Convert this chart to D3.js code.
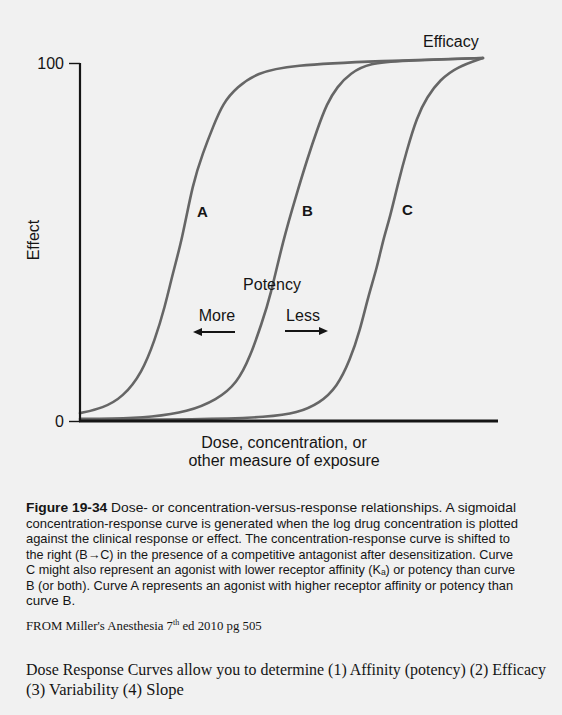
<!DOCTYPE html>
<html><head><meta charset="utf-8">
<script src="https://cdn.jsdelivr.net/npm/d3@7"></script>
<style>
html,body{margin:0;padding:0;background:#f1f1f1;}
svg{display:block;}
</style></head>
<body>
<script>
// Data (x: relative log dose 0-100, y: effect 0-100)
const curveNames = ["A", "B", "C"];
const doseA = [0, 5.5, 10.3, 14.8, 17.9, 20.3, 22.2, 24.4, 27.0, 29.4, 31.8, 34.2, 37.6, 42.3, 50.2, 71.8, 96.4];
const effectA = [2.2, 3.6, 6.7, 13.4, 22.6, 31.8, 41.3, 50.6, 66.5, 74.9, 82.1, 88.8, 93.3, 97.2, 99.4, 100.6, 101.4];
const doseB = [0, 7.2, 17.5, 25.6, 32.8, 37.6, 40.7, 43.5, 45.5, 48.6, 51.9, 54.3, 56.7, 59.1, 61.5, 64.6, 69.4, 76.6, 96.4];
const effectB = [0.6, 0.6, 1.1, 2.5, 5.9, 10.6, 17.9, 27.4, 34.6, 50.6, 63.7, 72.9, 81.3, 88.8, 93.3, 97.2, 100, 100.6, 101.4];
const doseC = [0, 28.7, 45.5, 51.9, 57.4, 61.5, 64.6, 67.0, 68.9, 71.1, 72.5, 74.2, 76.1, 78.2, 80.6, 83.0, 86.1, 90.2, 96.4];
const effectC = [0.3, 0.4, 1.1, 2.2, 5.0, 9.5, 17.0, 25.4, 34.6, 43.0, 50.6, 57.0, 66.5, 75.7, 84.9, 90.5, 95.3, 98.9, 101.4];
const yTicks = [0, 100];
const captionLines = [
  "concentration-response curve is generated when the log drug concentration is plotted",
  "against the clinical response or effect. The concentration-response curve is shifted to",
  "the right (B\u2192C) in the presence of a competitive antagonist after desensitization. Curve",
  "C might also represent an agonist with lower receptor affinity (K\u2090) or potency than curve",
  "B (or both). Curve A represents an agonist with higher receptor affinity or potency than",
  "curve B."
];

const W = 562, H = 715;
const svg = d3.select("body").append("svg").attr("width", W).attr("height", H);
svg.append("rect").attr("width", W).attr("height", H).attr("fill", "#f1f1f1");

const x = d3.scaleLinear().domain([0, 100]).range([80, 498]);
const y = d3.scaleLinear().domain([0, 100]).range([421, 63]);
const ink = "#151515";
const sans = "'Liberation Sans', Arial, sans-serif";
const serif = "'Liberation Serif', 'Times New Roman', serif";

// curves
const series = [
  doseA.map((d, i) => [d, effectA[i]]),
  doseB.map((d, i) => [d, effectB[i]]),
  doseC.map((d, i) => [d, effectC[i]])
];
const line = d3.line().x(d => x(d[0])).y(d => y(d[1])).curve(d3.curveBasis);
svg.selectAll("path.curve").data(series).enter().append("path")
  .attr("class", "curve").attr("d", line)
  .attr("fill", "none").attr("stroke", "#666").attr("stroke-width", 2.6)
  .attr("stroke-linecap", "round");

// axes
svg.append("line").attr("x1", x(0)).attr("x2", x(0)).attr("y1", y(100)).attr("y2", y(0))
  .attr("stroke", ink).attr("stroke-width", 2.2);
svg.append("line").attr("x1", x(0) - 1).attr("x2", x(100)).attr("y1", y(0)).attr("y2", y(0))
  .attr("stroke", ink).attr("stroke-width", 3);
const yAxis = d3.axisLeft(y).tickValues(yTicks).tickSize(11).tickFormat(d3.format("d"));
const ya = svg.append("g").attr("transform", `translate(${x(0)},0)`).call(yAxis);
ya.select(".domain").remove();
ya.selectAll(".tick line").attr("stroke", ink).attr("stroke-width", 1.4);
ya.selectAll(".tick text").attr("font-family", sans).attr("font-size", 16)
  .attr("fill", ink).attr("x", -16).attr("dy", "0.36em");

// axis labels
svg.append("text").attr("transform", "translate(39,240) rotate(-90)")
  .attr("text-anchor", "middle").attr("font-family", sans).attr("font-size", 16)
  .attr("fill", ink).text("Effect");
svg.append("text").attr("x", 284).attr("y", 448).attr("text-anchor", "middle")
  .attr("font-family", sans).attr("font-size", 16).attr("fill", ink).text("Dose, concentration, or");
svg.append("text").attr("x", 284).attr("y", 466).attr("text-anchor", "middle")
  .attr("font-family", sans).attr("font-size", 16).attr("fill", ink).text("other measure of exposure");

// annotations
svg.append("text").attr("x", 423).attr("y", 47).attr("font-family", sans).attr("font-size", 16)
  .attr("fill", ink).text("Efficacy");
const labelPos = [[197, 217], [302, 216], [402, 215]];
svg.selectAll("text.clabel").data(curveNames).enter().append("text")
  .attr("class", "clabel").attr("x", (d, i) => labelPos[i][0]).attr("y", (d, i) => labelPos[i][1])
  .attr("font-family", sans).attr("font-size", 15).attr("font-weight", "bold").attr("fill", ink).text(d => d);
svg.append("text").attr("x", 272).attr("y", 290).attr("text-anchor", "middle")
  .attr("font-family", sans).attr("font-size", 16).attr("fill", ink).text("Potency");
svg.append("text").attr("x", 217).attr("y", 321).attr("text-anchor", "middle")
  .attr("font-family", sans).attr("font-size", 16).attr("fill", ink).text("More");
svg.append("text").attr("x", 303).attr("y", 321).attr("text-anchor", "middle")
  .attr("font-family", sans).attr("font-size", 16).attr("fill", ink).text("Less");
// arrows
svg.append("line").attr("x1", 235).attr("x2", 198).attr("y1", 332).attr("y2", 332).attr("stroke", ink).attr("stroke-width", 2);
svg.append("path").attr("d", "M193,332 L202,328 L202,336 Z").attr("fill", ink);
svg.append("line").attr("x1", 285).attr("x2", 322).attr("y1", 331).attr("y2", 331).attr("stroke", ink).attr("stroke-width", 2);
svg.append("path").attr("d", "M328,331 L319,327 L319,335 Z").attr("fill", ink);

// caption
const capX = 26, capY0 = 512, capDy = 15.5, capFs = 13.4;
const t1 = svg.append("text").attr("x", capX).attr("y", capY0).attr("font-family", sans)
  .attr("font-size", capFs).attr("fill", ink).attr("textLength", 490).attr("lengthAdjust", "spacingAndGlyphs");
t1.append("tspan").attr("font-weight", "bold").text("Figure 19-34");
t1.append("tspan").text(" Dose- or concentration-versus-response relationships. A sigmoidal");
const capWidths = [492, 484, 487, 489, 487, null];
captionLines.forEach((ln, i) => {
  const t = svg.append("text").attr("x", capX).attr("y", capY0 + capDy * (i + 1)).attr("font-family", sans)
    .attr("font-size", capFs).attr("fill", ink).text(ln);
  if (capWidths[i]) t.attr("textLength", capWidths[i]).attr("lengthAdjust", "spacingAndGlyphs");
});

// source
const src = svg.append("text").attr("x", capX).attr("y", 630).attr("font-family", serif)
  .attr("font-size", 12.8).attr("fill", ink);
src.append("tspan").text("FROM Miller's Anesthesia 7");
src.append("tspan").attr("font-size", 8).attr("dy", -5).text("th");
src.append("tspan").attr("dy", 5).text(" ed 2010  pg 505");

// note
svg.append("text").attr("x", capX).attr("y", 675).attr("font-family", serif).attr("font-size", 16)
  .attr("fill", ink).attr("textLength", 520).attr("lengthAdjust", "spacingAndGlyphs")
  .text("Dose Response Curves allow you to determine (1) Affinity (potency) (2) Efficacy");
svg.append("text").attr("x", capX).attr("y", 695).attr("font-family", serif).attr("font-size", 16.5)
  .attr("fill", ink).text("(3) Variability (4) Slope");
</script>
</body></html>
